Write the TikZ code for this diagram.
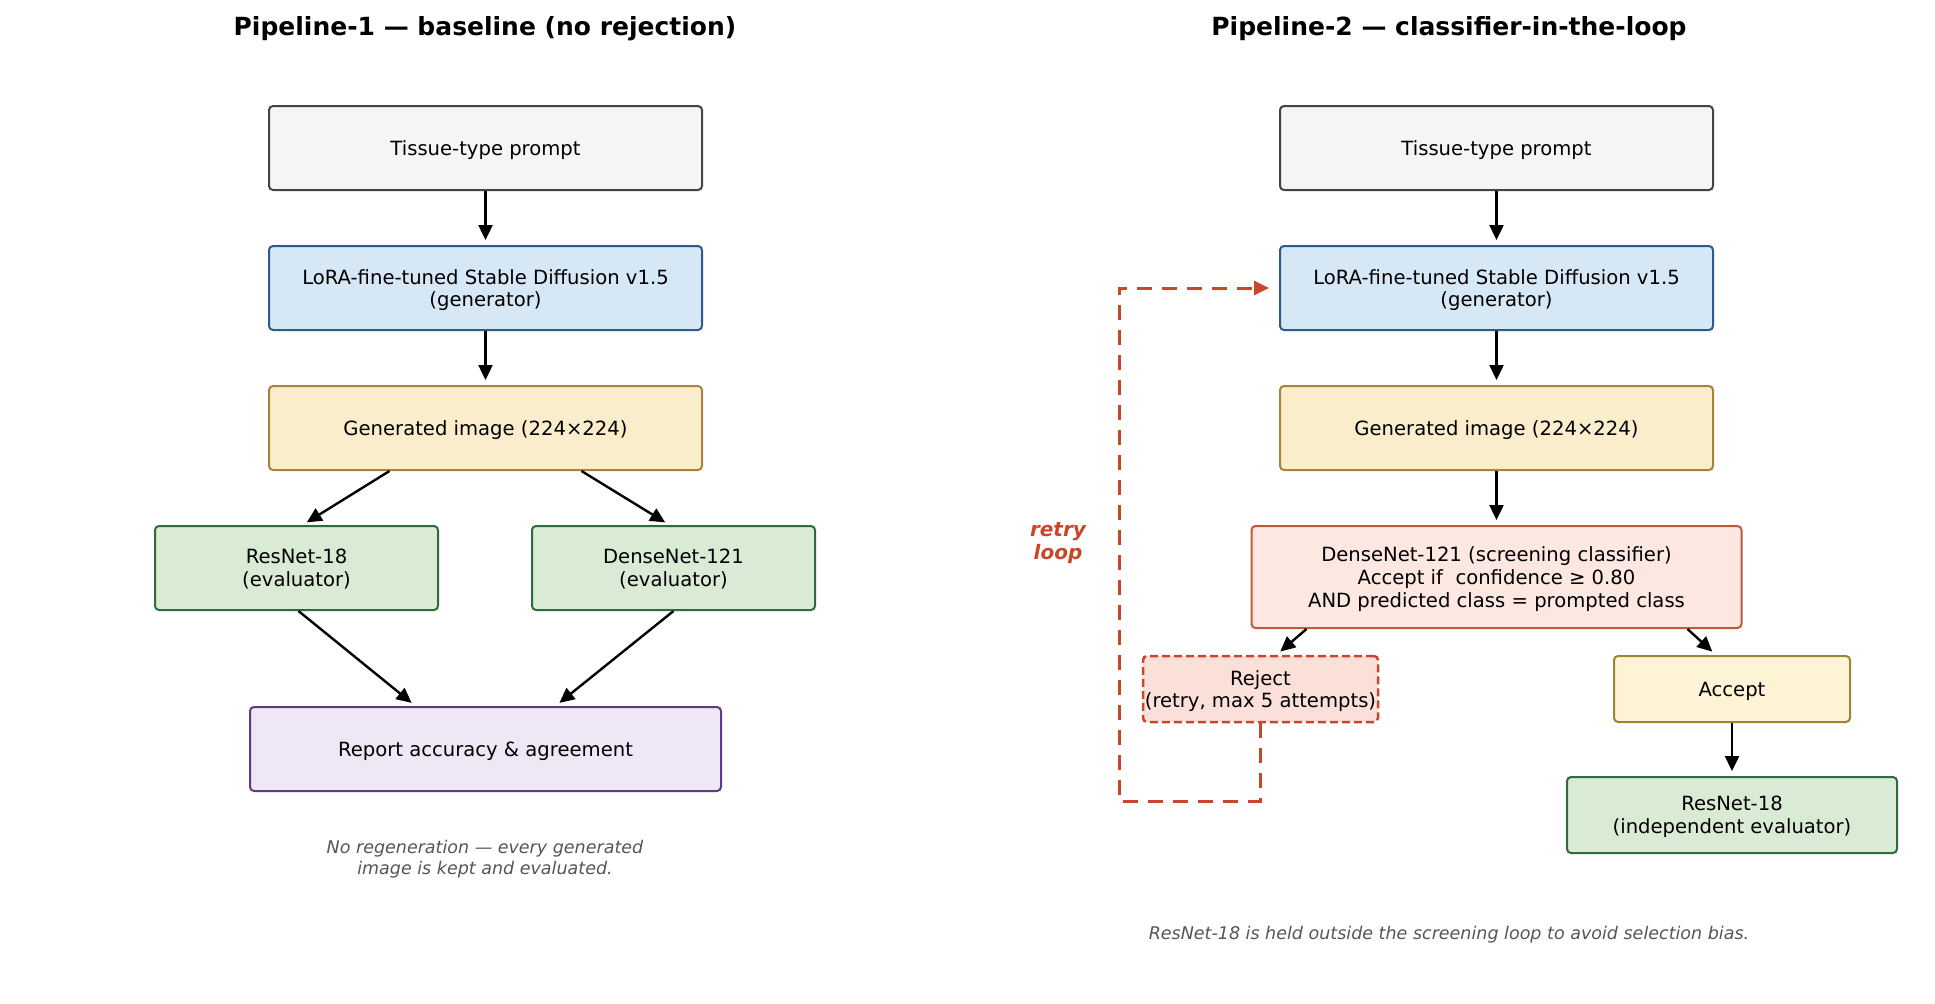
\documentclass[tikz,border=0pt]{standalone}
\usepackage{fontspec}
\setmainfont{DejaVu Sans}
\usepackage{xcolor}
\usetikzlibrary{arrows.meta,positioning,calc}
\definecolor{plgraydraw}{HTML}{444444}
\definecolor{plgrayfill}{HTML}{F5F5F5}
\definecolor{plbluedraw}{HTML}{2C5B8C}
\definecolor{plbluefill}{HTML}{D6E7F5}
\definecolor{plsanddraw}{HTML}{A8843A}
\definecolor{plsandfill}{HTML}{FAEDCC}
\definecolor{plgreendraw}{HTML}{2F6B3C}
\definecolor{plgreenfill}{HTML}{DAEBD5}
\definecolor{plpurpledraw}{HTML}{5E3B85}
\definecolor{plpurplefill}{HTML}{EFE7F5}
\definecolor{plreddraw}{HTML}{C0583A}
\definecolor{plredfill}{HTML}{FCE7E1}
\definecolor{plrejectfill}{HTML}{FBE0DA}
\definecolor{plretry}{HTML}{C8472A}
\definecolor{placceptdraw}{HTML}{A08530}
\definecolor{placceptfill}{HTML}{FFF3D6}
\definecolor{plnote}{HTML}{555555}
\tikzset{
plbox/.style={rectangle,rounded corners=2pt,draw,line width=1pt,align=center,inner sep=2pt,minimum width=216.5pt,minimum height=42pt,text depth=0pt,font=\fontsize{9.8}{11.3}\selectfont},
plsmall/.style={plbox,minimum width=141.5pt},
plprompt/.style={fill=plgrayfill,draw=plgraydraw},
plgen/.style={fill=plbluefill,draw=plbluedraw},
plimage/.style={fill=plsandfill,draw=plsanddraw},
pleval/.style={fill=plgreenfill,draw=plgreendraw},
plreport/.style={fill=plpurplefill,draw=plpurpledraw},
plscreen/.style={fill=plredfill,draw=plreddraw},
plreject/.style={fill=plrejectfill,draw=plretry,dash pattern=on 4pt off 2pt,line width=1.25pt},
placcept/.style={fill=placceptfill,draw=placceptdraw},
pltitle/.style={font=\fontsize{12.5}{15}\selectfont\bfseries},
plnotetext/.style={font=\fontsize{8.75}{10.6}\selectfont\itshape,text=plnote,align=center},
plarr/.style={-{Triangle[length=7.5pt,width=7pt]},line width=1.2pt,shorten >=2.5pt},
plretryarr/.style={-{Triangle[length=7.5pt,width=7pt]},line width=1.5pt,draw=plretry,dash pattern=on 7.5pt off 5pt,shorten >=5pt}
}
\begin{document}
\begin{tikzpicture}[x=0.5pt,y=-0.5pt]
\useasboundingbox (0,0) rectangle (1935,1003);
% Pipeline-1
\node[pltitle] (title1) at (485,28.5) {Pipeline-1 — baseline (no rejection)};
\node[plbox,plprompt] (prompt1) at (485.5,148) {Tissue-type prompt};
\node[plbox,plgen] (lora1) at (485.5,288) {LoRA-fine-tuned Stable Diffusion v1.5\\(generator)};
\node[plbox,plimage] (image1) at (485.5,428) {Generated image (224×224)};
\node[plsmall,pleval] (resnet1) at (296.5,568) {ResNet-18\\(evaluator)};
\node[plsmall,pleval] (densenet1) at (673.5,568) {DenseNet-121\\(evaluator)};
\node[plbox,plreport,minimum width=235.5pt] (report1) at (485.5,749) {Report accuracy \& agreement};
\node[plnotetext] (note1) at (485,859.5) {No regeneration — every generated\\image is kept and evaluated.};
\draw[plarr] (prompt1)--(lora1);
\draw[plarr] (lora1)--(image1);
\draw[plarr] ($(image1.south)+(-96,0)$)--($(resnet1.north)+(6,0)$);
\draw[plarr] ($(image1.south)+(96,0)$)--($(densenet1.north)+(-4,0)$);
\draw[plarr] ($(resnet1.south)+(2,0)$)--($(report1.north)+(-70,0)$);
\draw[plarr] (densenet1.south)--($(report1.north)+(70,0)$);
% Pipeline-2
\node[pltitle] (title2) at (1449,28.5) {Pipeline-2 — classifier-in-the-loop};
\node[plbox,plprompt] (prompt2) at (1496.5,148) {Tissue-type prompt};
\node[plbox,plgen] (lora2) at (1496.5,288) {LoRA-fine-tuned Stable Diffusion v1.5\\(generator)};
\node[plbox,plimage] (image2) at (1496.5,428) {Generated image (224×224)};
\node[plbox,plscreen,minimum width=245pt,minimum height=51pt] (screen2) at (1496.5,577) {DenseNet-121 (screening classifier)\\Accept if~ confidence ≥ 0.80\\AND predicted class = prompted class};
\node[plbox,plreject,minimum width=117.5pt,minimum height=33pt,inner sep=0pt] (reject2) at (1260.5,689) {Reject\\(retry, max 5 attempts)};
\node[plbox,placcept,minimum width=118pt,minimum height=33pt] (accept2) at (1732,689) {Accept};
\node[plbox,pleval,minimum width=165pt,minimum height=38pt] (resnet2) at (1732,815) {ResNet-18\\(independent evaluator)};
\node[font=\fontsize{10}{11.5}\selectfont\bfseries\itshape,text=plretry,align=center] (retrylabel) at (1058,543) {retry\\loop};
\node[plnotetext] (note2) at (1449,934.5) {ResNet-18 is held outside the screening loop to avoid selection bias.};
\coordinate (loopbl) at (1119,801);
\draw[plarr] (prompt2)--(lora2);
\draw[plarr] (lora2)--(image2);
\draw[plarr] (image2)--(screen2);
\draw[plarr] ($(screen2.south)+(-190,0)$)--($(reject2.north)+(16,0)$);
\draw[plarr] ($(screen2.south)+(191,0)$)--($(accept2.north)+(-16,0)$);
\draw[plarr] (accept2)--(resnet2);
\draw[plretryarr] (reject2.south) |- (loopbl) |- (lora2.west);
\end{tikzpicture}
\end{document}
